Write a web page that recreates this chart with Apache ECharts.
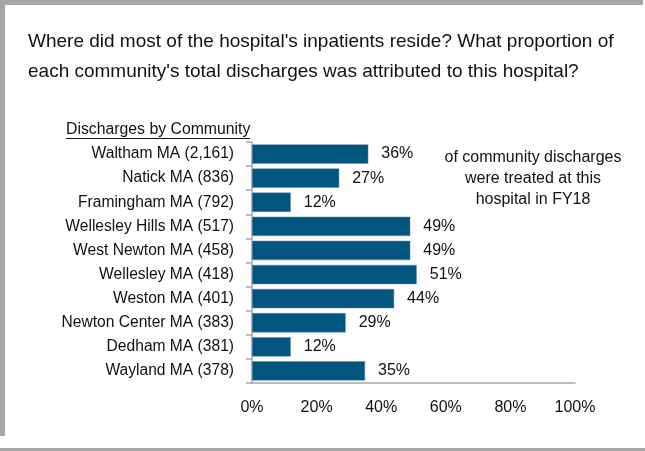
<!DOCTYPE html>
<html>
<head>
<meta charset="utf-8">
<script src="https://cdn.jsdelivr.net/npm/echarts@6/dist/echarts.min.js"></script>
<style>
html,body{margin:0;padding:0;background:#fff;}
#chart{width:645px;height:451px;}
</style>
</head>
<body>
<div id="chart"></div>
<script>
const categories = [
  'Waltham MA (2,161)',
  'Natick MA (836)',
  'Framingham MA (792)',
  'Wellesley Hills MA (517)',
  'West Newton MA (458)',
  'Wellesley MA (418)',
  'Weston MA (401)',
  'Newton Center MA (383)',
  'Dedham MA (381)',
  'Wayland MA (378)'
];
const shareValues = [36, 27, 12, 49, 49, 51, 44, 29, 12, 35];
const xTicks = [0, 20, 40, 60, 80, 100];

const titleText = "Where did most of the hospital's inpatients reside? What proportion of\neach community's total discharges was attributed to this hospital?";
const headerText = 'Discharges by Community';
const noteText = 'of community discharges\nwere treated at this\nhospital in FY18';

const FONT = '"Liberation Sans", Arial, sans-serif';
const chart = echarts.init(document.getElementById('chart'), null, {renderer: 'canvas'});

chart.setOption({
  animation: false,
  backgroundColor: '#ffffff',
  title: {
    text: titleText,
    left: 23,
    top: 22,
    textStyle: {fontFamily: FONT, fontSize: 19, fontWeight: 'normal', color: '#111', lineHeight: 30}
  },
  grid: {left: 252, right: 70, top: 142, bottom: 68, containLabel: false},
  xAxis: {
    type: 'value',
    min: xTicks[0],
    max: xTicks[xTicks.length - 1],
    interval: xTicks[1] - xTicks[0],
    axisLine: {show: true, lineStyle: {color: '#a6a6a6', width: 1.5}},
    axisTick: {show: false},
    splitLine: {show: false},
    axisLabel: {formatter: '{value}%', margin: 17, fontFamily: FONT, fontSize: 16, color: '#111'}
  },
  yAxis: {
    type: 'category',
    data: categories,
    inverse: true,
    axisLine: {show: true, lineStyle: {color: '#a6a6a6', width: 1.5}},
    axisTick: {show: true, length: 6, lineStyle: {color: '#a6a6a6', width: 1.5}},
    axisLabel: {margin: 18, fontFamily: FONT, fontSize: 15.6, color: '#111'}
  },
  series: [{
    type: 'bar',
    data: shareValues,
    barWidth: '80%',
    itemStyle: {color: '#02557f', borderColor: '#5a8fb0', borderWidth: 0.5},
    label: {
      show: true,
      position: 'right',
      distance: 13,
      formatter: '{c}%',
      fontFamily: FONT,
      fontSize: 16,
      color: '#111'
    }
  }],
  graphic: [
    {type: 'rect', shape: {x: 0, y: 0, width: 643, height: 5}, style: {fill: '#a6a6a8'}, silent: true},
    {type: 'rect', shape: {x: 0, y: 0, width: 5, height: 436}, style: {fill: '#a6a6a8'}, silent: true},
    {type: 'rect', shape: {x: 0, y: 448, width: 645, height: 3}, style: {fill: '#a6a6a8'}, silent: true},
    {
      type: 'text', left: 66, top: 122,
      style: {text: headerText, fontFamily: FONT, fontSize: 15.8, fill: '#111'}
    },
    {type: 'line', shape: {x1: 66, y1: 138.5, x2: 250, y2: 138.5}, style: {stroke: '#111', lineWidth: 1}, silent: true},
    {
      type: 'text', x: 533, y: 147,
      style: {text: noteText, fontFamily: FONT, fontSize: 16, fill: '#111', align: 'center', lineHeight: 21}
    }
  ]
});
</script>
</body>
</html>
